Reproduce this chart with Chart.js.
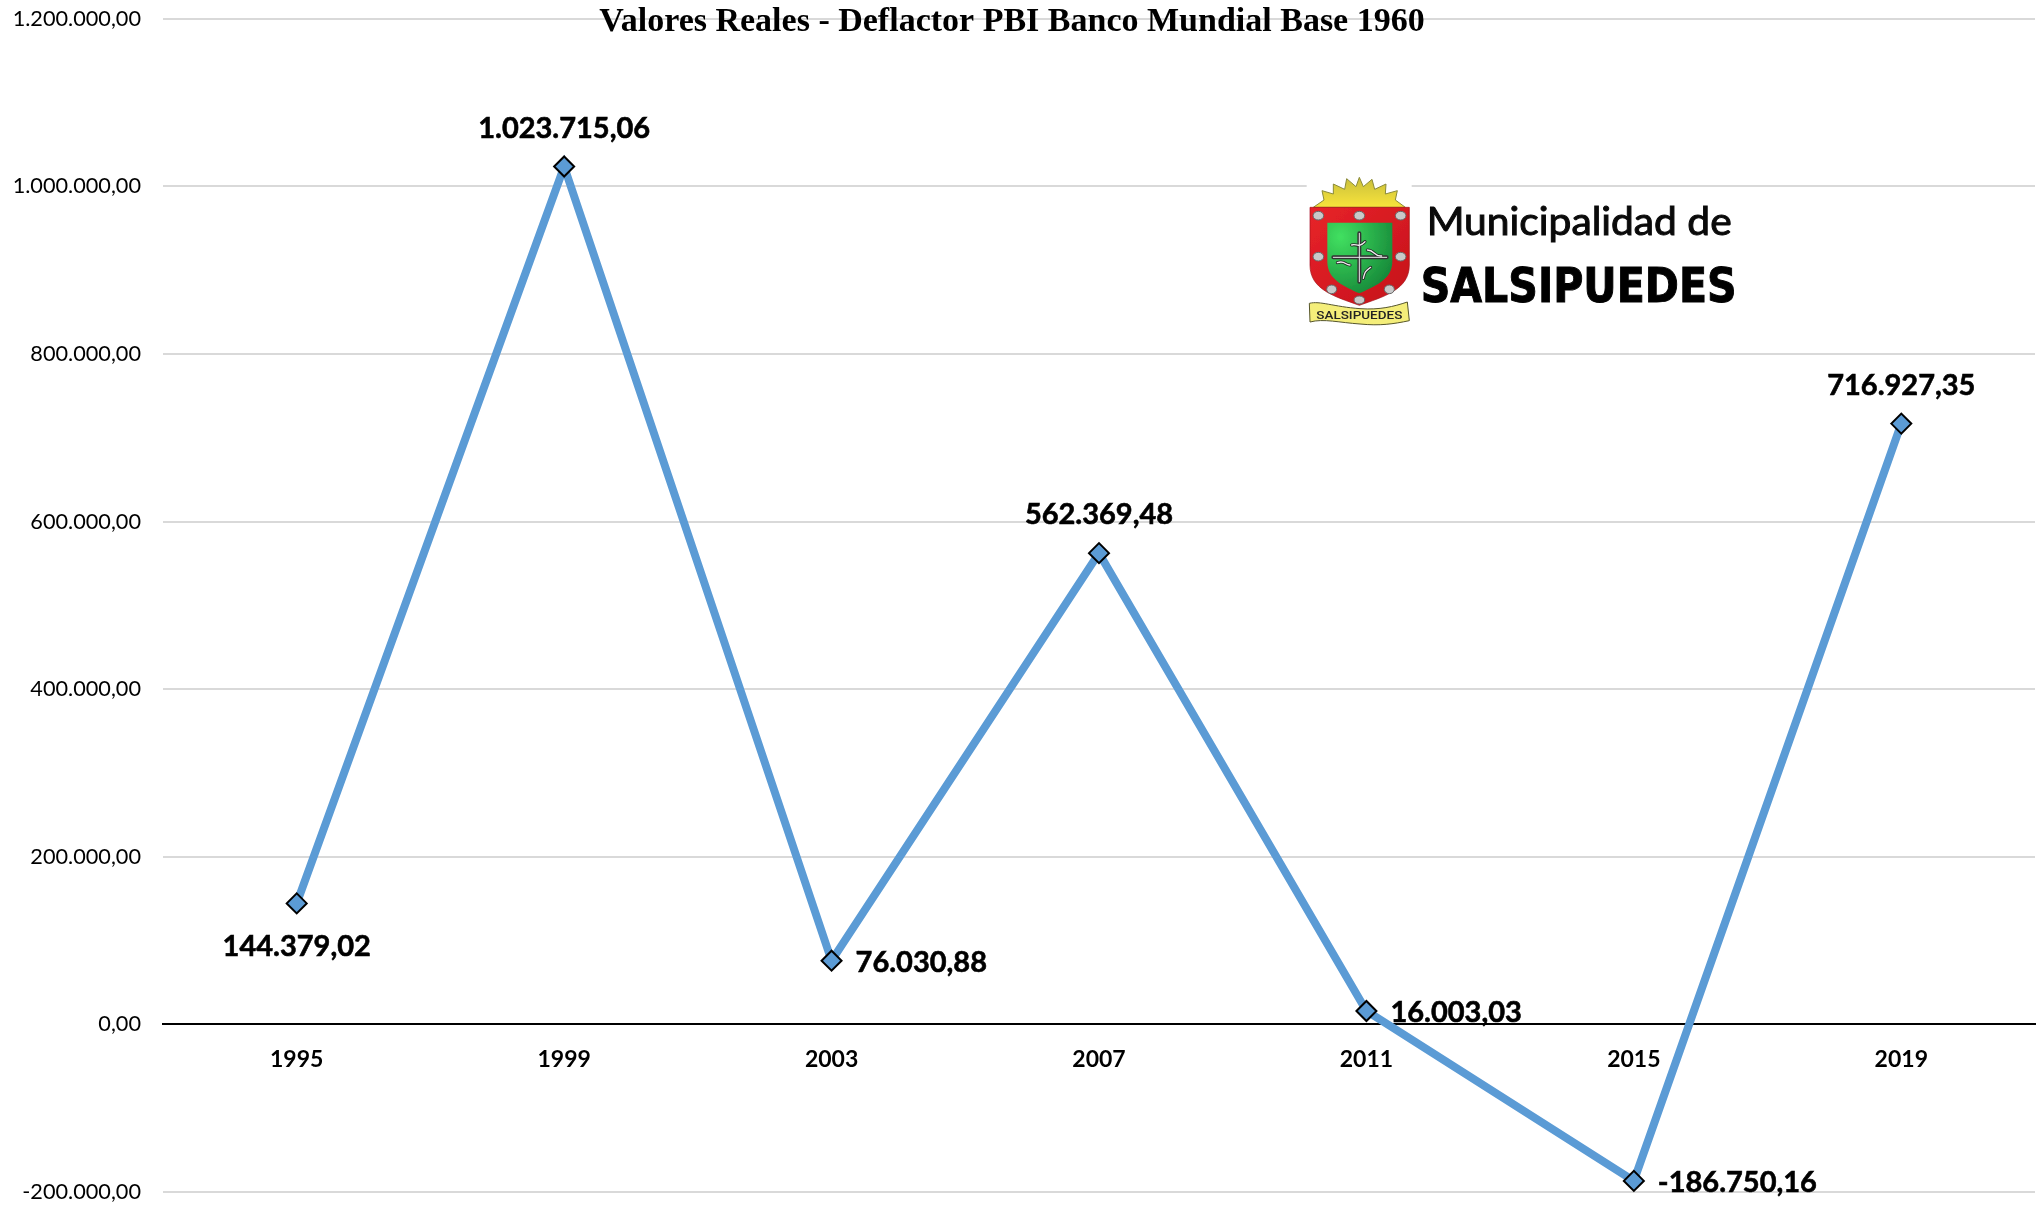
<!DOCTYPE html>
<html lang="es">
<head>
<meta charset="utf-8">
<title>Valores Reales</title>
<script src="https://cdn.jsdelivr.net/npm/chart.js@4"></script>
<style>
html,body{margin:0;padding:0;background:#fff;width:2041px;height:1216px;overflow:hidden}
#wrap{position:relative;width:2041px;height:1216px}
canvas{position:absolute;left:0;top:0}
#logo{position:absolute;left:1250px;top:150px;width:520px;height:200px}
</style>
</head>
<body>
<div id="wrap">
<canvas id="c" width="2041" height="1216"></canvas>
<svg id="logo" viewBox="0 0 1560 600" xmlns="http://www.w3.org/2000/svg">
  <defs>
    <radialGradient id="gr" cx="0.2" cy="0.2" r="0.9"><stop offset="0" stop-color="#41e060"/><stop offset="1" stop-color="#178a3a"/></radialGradient>
    <linearGradient id="rd" x1="0" y1="0" x2="1" y2="1"><stop offset="0" stop-color="#e8232a"/><stop offset="1" stop-color="#c4121a"/></linearGradient>
    <linearGradient id="sun" x1="0" y1="0" x2="0" y2="1"><stop offset="0" stop-color="#c9bf3a"/><stop offset="1" stop-color="#f8e43a"/></linearGradient>
    <filter id="soft"><feGaussianBlur stdDeviation="1.6"/></filter>
  </defs>
  <rect x="170" y="78" width="315" height="455" fill="#fff"/>
  <g filter="url(#soft)">
    <path d="M190 172 L222 150 L216 122 L250 132 L250 102 L284 118 L290 86 L318 110 L328 82 L340 110 L366 88 L374 118 L408 102 L406 132 L442 122 L436 150 L466 172 Z" fill="url(#sun)" stroke="#8a8a3a" stroke-width="3"/>
    <path d="M180 172 H478 V345 C478 420 400 440 328 466 C256 440 180 420 180 345 Z" fill="url(#rd)" stroke="#a01015" stroke-width="2"/>
    <path d="M232 218 H427 V335 C427 390 370 410 328 430 C286 410 232 390 232 335 Z" fill="url(#gr)"/>
    <g fill="#c9c9c9" stroke="#666" stroke-width="3">
      <ellipse cx="205" cy="197" rx="16" ry="13"/><ellipse cx="328" cy="197" rx="16" ry="13"/><ellipse cx="452" cy="197" rx="16" ry="13"/>
      <ellipse cx="205" cy="320" rx="16" ry="13"/><ellipse cx="452" cy="320" rx="16" ry="13"/>
      <ellipse cx="245" cy="418" rx="15" ry="13"/><ellipse cx="418" cy="418" rx="15" ry="13"/><ellipse cx="328" cy="450" rx="16" ry="12"/>
    </g>
    <g fill="none" stroke-linecap="round">
      <path d="M328 250 V395 M250 322 H410" stroke="#333" stroke-width="12"/>
      <path d="M305 285 C320 280 325 295 345 275 M352 300 C375 300 370 320 395 318 M300 345 C285 345 285 330 262 338 M340 385 C345 365 345 365 362 352" stroke="#222" stroke-width="9"/>
      <path d="M305 285 C320 280 325 295 345 275 M352 300 C375 300 370 320 395 318 M300 345 C285 345 285 330 262 338 M340 385 C345 365 345 365 362 352" stroke="#eee" stroke-width="4"/>
      <path d="M328 250 V395 M250 322 H410" stroke="#e8e8e8" stroke-width="3"/>
    </g>
    <path d="M178 460 C210 452 250 470 330 476 C390 480 430 470 472 456 L478 512 C430 522 390 528 330 522 C270 518 220 505 180 516 Z" fill="#f4ee7a" stroke="#55552a" stroke-width="3"/>
  </g>
  <text x="328" y="507" text-anchor="middle" font-family="Roboto" font-weight="500" font-size="34" textLength="258" lengthAdjust="spacingAndGlyphs" fill="#222">SALSIPUEDES</text>
  <text x="530" y="255" font-family="Lato" font-size="118" textLength="915" lengthAdjust="spacingAndGlyphs" fill="#0a0a0a" stroke="#0a0a0a" stroke-width="3">Municipalidad de</text>
  <text x="512" y="455" font-family="DejaVu Sans" font-weight="700" font-size="142" textLength="948" lengthAdjust="spacingAndGlyphs" fill="#000" stroke="#000" stroke-width="3">SALSIPUEDES</text>
</svg>
</div>
<script>
const categories = ['1995', '1999', '2003', '2007', '2011', '2015', '2019'];
const seriesValues = [144379.02, 1023715.06, 76030.88, 562369.48, 16003.03, -186750.16, 716927.35];
const valueLabels = ['144.379,02', '1.023.715,06', '76.030,88', '562.369,48', '16.003,03', '-186.750,16', '716.927,35'];
const labelPlacement = ['below', 'above', 'right', 'above', 'right', 'right', 'above'];
const yTickValues = [-200000, 0, 200000, 400000, 600000, 800000, 1000000, 1200000];
const yTickLabels = ['-200.000,00', '0,00', '200.000,00', '400.000,00', '600.000,00', '800.000,00', '1.000.000,00', '1.200.000,00'];
const chartTitle = 'Valores Reales - Deflactor PBI Banco Mundial Base 1960';

const sans = 'Lato, "Liberation Sans", sans-serif';

const valueLabelPlugin = {
  id: 'valueLabels',
  afterLayout(chart) { chart.titleBlock.right -= 11; },
  afterDatasetsDraw(chart) {
    const ctx = chart.ctx;
    const pts = chart.getDatasetMeta(0).data;
    ctx.save();
    ctx.font = 'bold 29px ' + sans;
    ctx.fillStyle = '#000';
    ctx.strokeStyle = '#000';
    ctx.lineWidth = 0.6;
    ctx.textBaseline = 'middle';
    pts.forEach((p, i) => {
      const where = labelPlacement[i];
      let tx = p.x, ty = p.y;
      if (where === 'above') { ctx.textAlign = 'center'; ty -= 38; }
      else if (where === 'below') { ctx.textAlign = 'center'; ty += 43; }
      else { ctx.textAlign = 'left'; tx += 24; ty += 2; }
      ctx.fillText(valueLabels[i], tx, ty);
      ctx.strokeText(valueLabels[i], tx, ty);
    });
    ctx.restore();
  }
};

new Chart(document.getElementById('c'), {
  type: 'line',
  data: {
    labels: categories,
    datasets: [{
      data: seriesValues,
      borderColor: '#5b9bd5',
      backgroundColor: '#5b9bd5',
      borderWidth: 8,
      tension: 0,
      fill: false,
      pointStyle: 'rectRot',
      pointRadius: 10,
      pointHoverRadius: 10,
      pointBackgroundColor: '#5b9bd5',
      pointBorderColor: '#000',
      pointBorderWidth: 2,
      clip: false
    }]
  },
  options: {
    responsive: false,
    animation: false,
    events: [],
    layout: { autoPadding: false, padding: { left: 0, right: 6, top: 0, bottom: 24 } },
    plugins: {
      legend: { display: false },
      tooltip: { enabled: false },
      title: {
        display: true,
        text: chartTitle,
        color: '#000',
        font: { family: '"Liberation Serif", serif', weight: 'bold', size: 34, lineHeight: 1.2 },
        padding: { top: 2, bottom: -24 }
      }
    },
    scales: {
      x: {
        type: 'category',
        position: { y: 0 },
        offset: true,
        afterFit(scale) { scale.paddingLeft = 0; scale.paddingRight = 0; scale.paddingTop = 0; scale.paddingBottom = 0; },
        grid: { display: false, drawTicks: false },
        border: { display: true, color: '#000', width: 2 },
        ticks: { color: '#000', padding: 21, maxRotation: 0, font: { family: sans, weight: 'bold', size: 23 } }
      },
      y: {
        min: -200000,
        max: 1200000,
        afterFit(scale) { scale.width = 163; scale.paddingTop = 0; scale.paddingBottom = 0; },
        afterBuildTicks(scale) { scale.ticks = yTickValues.map(v => ({ value: v })); },
        grid: {
          drawTicks: false,
          lineWidth: 2,
          color: ctx => (ctx.tick && ctx.tick.value === 0 ? 'rgba(0,0,0,0)' : '#d9d9d9')
        },
        border: { display: false },
        ticks: {
          color: '#000',
          padding: 22,
          font: { family: sans, size: 21.7 },
          callback: v => yTickLabels[yTickValues.indexOf(v)]
        }
      }
    }
  },
  plugins: [valueLabelPlugin]
});
</script>
</body>
</html>
